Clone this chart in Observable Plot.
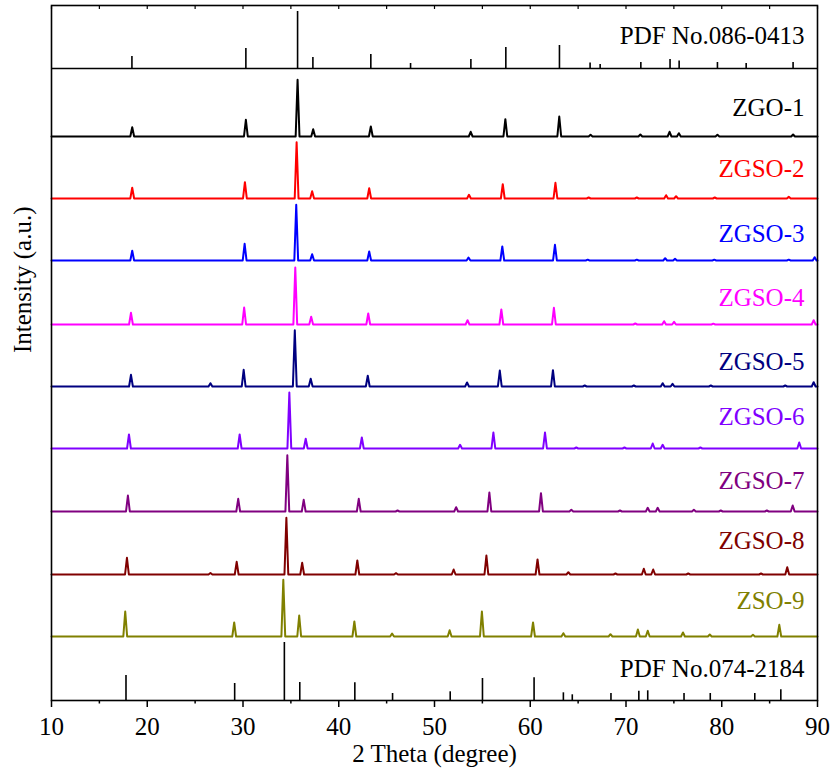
<!DOCTYPE html>
<html><head><meta charset="utf-8">
<script src="https://cdn.jsdelivr.net/npm/d3@7"></script>
<script src="https://cdn.jsdelivr.net/npm/@observablehq/plot@0.6"></script>
<style>body{margin:0;background:#fff}</style>
</head><body><div id="chart"></div>
<script>
// Series names (top to bottom) and colours
const names = ["PDF No.086-0413","ZGO-1","ZGSO-2","ZGSO-3","ZGSO-4","ZGSO-5","ZGSO-6","ZGSO-7","ZGSO-8","ZSO-9","PDF No.074-2184"];
const colors = ["#000000","#000000","#ff0000","#0000ff","#ff00ff","#000080","#8000ff","#800080","#800000","#808000","#000000"];
// vertical stacking offset (a.u.) of each pattern
const offsets = [632,564,502,440,376,314,252,189,126,64,0];
const labelLift = [32.5,29,30,27,27,25,32,30.5,33.5,36,32];

// Reference stick patterns: [2theta, intensity]
const pdf0413 = [[18.4,12],[30.3,20],[35.7,57],[37.3,11],[43.35,14],[47.5,5],[53.8,9],[57.45,21],[63.05,23],[66.25,5.5],[67.3,4],[71.55,6],[74.6,9],[75.55,7.5],[79.55,6],[82.55,5],[87.45,6]];
const pdf2184 = [[17.78,25],[29.13,17],[34.32,58],[35.93,18],[41.68,17.7],[45.62,7],[51.64,8.7],[55.01,22],[60.4,22.7],[63.46,7.7],[64.39,5.7],[68.43,7],[71.34,9.3],[72.27,9.7],[76.06,7],[78.8,7],[83.45,7],[86.17,10.7]];

// Measured peaks of each sample: [2theta, intensity]
const zgo1 = [[18.43,9.3],[30.3,16.7],[35.7,56.7],[37.33,7.3],[43.35,10],[53.78,4.7],[57.4,17.3],[63.03,20],[66.3,1.7],[71.5,2],[74.55,4.7],[75.52,3.3],[79.55,1.7],[87.45,2]];
const zgso2 = [[18.43,10.7],[30.2,16.3],[35.6,56.3],[37.22,7.3],[43.18,10.3],[53.6,3.7],[57.13,14.3],[62.63,15.7],[66.1,1],[71.13,1],[74.19,3.3],[75.23,2.3],[79.27,1],[87.0,1.7]];
const zgso3 = [[18.43,9.7],[30.17,16.7],[35.56,55.7],[37.22,6.3],[43.18,9],[53.55,3],[57.08,14],[62.58,15.7],[66.0,0.8],[71.13,0.8],[74.09,2.3],[75.12,1.7],[79.22,0.8],[87.0,0.8],[89.7,3.3]];
const zgso4 = [[18.3,11.7],[30.12,17],[35.46,57],[37.12,7.7],[43.08,11],[53.45,4.3],[56.98,15],[62.47,16.7],[70.97,1],[73.98,3.3],[75.02,2.7],[79.12,0.8],[89.6,4.3]];
const zgso5 = [[18.3,11.7],[26.6,3.3],[30.07,16.7],[35.41,56.3],[37.07,7.7],[43.03,10.7],[53.4,4],[56.82,16],[62.37,16.3],[65.69,1],[70.82,1],[73.83,3.3],[74.86,2.7],[78.86,1],[86.63,1],[89.6,4.3]];
const zgso6 = [[18.09,14],[29.65,14],[34.84,56],[36.55,9.7],[42.41,11],[52.67,3.7],[56.15,16],[61.54,16],[64.81,1],[69.84,1],[72.79,5],[73.83,3.7],[77.77,1],[88.09,6]];
const zgso7 = [[17.98,16],[29.5,12.7],[34.63,56.3],[36.34,11.7],[42.09,12.7],[46.14,1],[52.26,4.3],[55.73,19],[61.12,18.3],[64.29,1.7],[69.37,1],[72.27,3.7],[73.31,3.7],[77.09,1.7],[79.9,1],[84.71,1],[87.41,6]];
const zgso8 = [[17.88,16.7],[26.6,1.5],[29.34,12.7],[34.53,56.7],[36.18,11.7],[41.94,14],[45.98,1.3],[52.0,5],[55.42,19],[60.76,15],[63.98,2.3],[68.9,1],[71.86,5.7],[72.84,5],[76.5,1],[84.1,1],[86.84,7.3]];
const zso9 = [[17.7,25],[29.08,14],[34.21,56.7],[35.87,21],[41.63,15],[45.57,3],[51.58,6.3],[54.95,25],[60.29,14],[63.46,3.3],[68.38,2.3],[71.24,7],[72.27,5.7],[75.95,4],[78.75,2],[83.26,1.7],[86.01,11.7]];

const samples = [zgo1,zgso2,zgso3,zgso4,zgso5,zgso6,zgso7,zgso8,zso9];

const xTicks = [10,20,30,40,50,60,70,80,90];
const xMinorTicks = [15,25,35,45,55,65,75,85];
const xAll = [10,15,20,25,30,35,40,45,50,55,60,65,70,75,80,85,90];
const xLabel = "2 Theta (degree)";
const yLabel = "Intensity (a.u.)";

const xDomain = [10,90];
const peakHalfWidth = 0.2;

// build polyline table for a sample (baseline across the full range, triangle per peak)
function profile(peaks, off) {
  const pts = [{x: xDomain[0], y: off}];
  for (const [p, h] of peaks) {
    pts.push({x: Math.max(xDomain[0], p - peakHalfWidth), y: off});
    pts.push({x: p, y: off + h});
    pts.push({x: Math.min(xDomain[1], p + peakHalfWidth), y: off});
  }
  pts.push({x: xDomain[1], y: off});
  return pts;
}

const marks = [];
samples.forEach((s, i) => {
  marks.push(Plot.line(profile(s, offsets[i + 1]), {x: "x", y: "y", stroke: colors[i + 1], strokeWidth: 2, strokeLinejoin: "round"}));
});
// stick patterns
marks.push(Plot.ruleY([offsets[0]], {stroke: "black", strokeWidth: 1.5}));
marks.push(Plot.ruleX(pdf0413, {x: d => d[0], y1: offsets[0], y2: d => offsets[0] + d[1], stroke: "black", strokeWidth: 1.6}));
marks.push(Plot.ruleX(pdf2184, {x: d => d[0], y1: offsets[10], y2: d => offsets[10] + d[1], stroke: "black", strokeWidth: 1.6}));

// labels
const labelData = names.map((n, i) => ({name: n, y: offsets[i] + labelLift[i], color: colors[i]}));
marks.push(Plot.text(labelData, {y: "y", text: "name", fill: d => d.color, frameAnchor: "right", textAnchor: "end", dx: -13, lineAnchor: "middle", fontSize: 25}));

// axes
marks.push(Plot.axisX({anchor: "bottom", ticks: xTicks, tickSize: 7, strokeWidth: 1.5, tickFormat: () => "", label: null}));
marks.push(Plot.axisX({anchor: "bottom", ticks: xMinorTicks, tickSize: 3.5, strokeWidth: 1.5, tickFormat: () => "", label: null}));
marks.push(Plot.axisX({anchor: "top", ticks: xAll, tickSize: -3, strokeWidth: 1.2, tickFormat: () => "", label: null}));
marks.push(Plot.text(xTicks, {x: d => d, text: d => String(d), frameAnchor: "bottom", lineAnchor: "top", dy: 17, fontSize: 25, fill: "black"}));
marks.push(Plot.text([xLabel], {text: d => d, frameAnchor: "bottom", lineAnchor: "top", dy: 44, fontSize: 25, fill: "black"}));
marks.push(Plot.text([yLabel], {text: d => d, frameAnchor: "left", rotate: -90, dx: -29, fontSize: 25, fill: "black"}));
marks.push(Plot.frame({stroke: "black", strokeWidth: 1.6}));

const chart = Plot.plot({
  width: 831,
  height: 769,
  marginLeft: 51,
  marginRight: 14,
  marginTop: 5,
  marginBottom: 69,
  style: {fontFamily: "'Liberation Serif', 'Times New Roman', serif", fontSize: "25px", color: "black", background: "white"},
  x: {domain: xDomain},
  y: {domain: [0, 695], axis: null},
  marks
});
document.getElementById("chart").appendChild(chart);
</script>
</body></html>
